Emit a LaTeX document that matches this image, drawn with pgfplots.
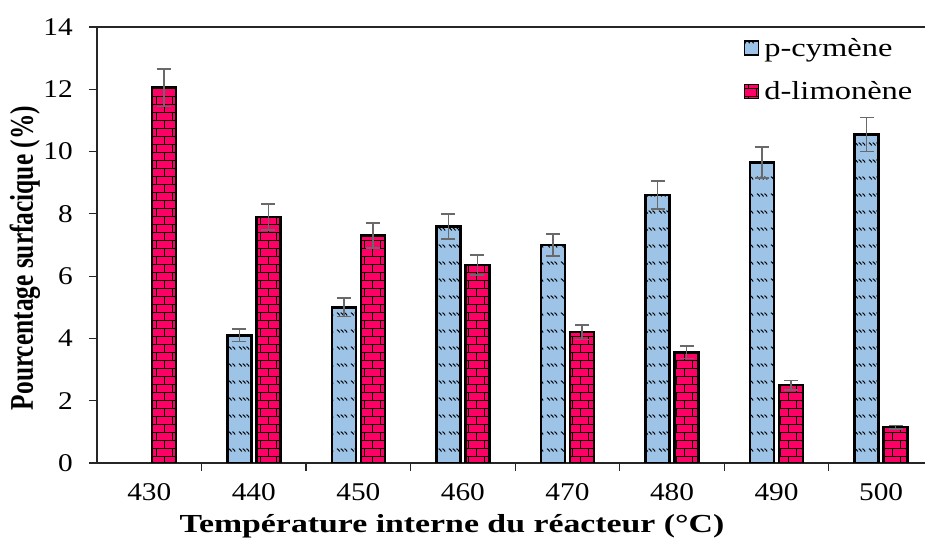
\documentclass[border=0pt]{standalone}
\usepackage{pgfplots}
\pgfplotsset{compat=1.18}
\usepackage{fontspec}
\setmainfont{Liberation Serif}
\usetikzlibrary{patterns.meta}
\definecolor{cym}{RGB}{157,195,230}
\definecolor{lim}{RGB}{255,0,102}
\definecolor{errc}{RGB}{105,105,105}

\tikzdeclarepattern{
  name=brickz,
  type=uncolored,
  bottom left={(-1pt,-1pt)},
  top right={(17pt,17pt)},
  tile size={(16pt,16pt)},
  code={
    \tikzset{x=1pt,y=1pt,line width=2.2pt}
    \draw (-1,0)--(17,0) (-1,8)--(17,8) (4,0)--(4,8) (12,8)--(12,16);
  }
}
\tikzdeclarepattern{
  name=wavez,
  type=uncolored,
  bottom left={(0pt,0pt)},
  top right={(14pt,17pt)},
  tile size={(14pt,17pt)},
  code={
    \tikzset{x=1pt,y=1pt,line width=1pt}
    \draw (1,12) .. controls (2,12) and (3,10) .. (4,9);
    \draw (5,12) .. controls (6,12) and (7,10) .. (8,9);
    \draw (9,12) .. controls (10,12) and (11,10) .. (12,9);
  }
}

\begin{document}
\begin{tikzpicture}
\useasboundingbox (0,0) rectangle (925pt,545pt);
\begin{axis}[
  at={(97pt,82pt)}, anchor=south west,
  scale only axis, width=828pt, height=436pt,
  xmin=-0.5, xmax=7.42, ymin=0, ymax=14,
  axis lines=left,
  axis line style={-, black!85, line width=1.3pt},
  ybar,
  xtick={0,...,7},
  xticklabels={{\scalebox{1.15}[1]{430}},{\scalebox{1.15}[1]{440}},{\scalebox{1.15}[1]{450}},{\scalebox{1.15}[1]{460}},{\scalebox{1.15}[1]{470}},{\scalebox{1.15}[1]{480}},{\scalebox{1.15}[1]{490}},{\scalebox{1.15}[1]{500}}},
  major x tick style={draw=none},
  minor xtick={0.5,1.5,...,6.5},
  minor tick length=8pt,
  minor x tick style={black!85, line width=1.2pt},
  ytick={0,2,...,14},
  yticklabel={\scalebox{1.15}[1]{\pgfmathparse{int(\tick)}\pgfmathresult}},
  major tick length=8pt,
  major y tick style={black!85, line width=1.2pt},
  tick align=outside,
  tick label style={font=\fontsize{25.5}{30}\selectfont},
  yticklabel style={anchor=east, inner sep=0pt, xshift=-16pt},
  xticklabel style={anchor=north, inner sep=0pt, yshift=-12pt},
  xlabel={\scalebox{1.3}[1]{Température interne du réacteur (°C)}},
  xlabel style={at={(axis description cs:0.4287,-0.145)}, anchor=center, font=\fontsize{26}{30}\selectfont\bfseries},
  ylabel={\scalebox{1}[1.3]{Pourcentage surfacique (\%)}},
  ylabel style={at={(axis description cs:-0.087,0.470)}, anchor=center, font=\fontsize{25.4}{30}\selectfont\bfseries},
  legend style={draw=none, fill=none, at={(rel axis cs:0.781,0.975)}, anchor=north west,
    font=\fontsize{26}{30}\selectfont, row sep=24pt, inner sep=0pt,
    nodes={inner xsep=0pt, inner ysep=0pt}},
  legend cell align=left,
  legend image code/.code={\draw[#1, line width=1.5pt] (0pt,-7pt) rectangle (14pt,7pt);},
]
\addplot[fill=cym, draw=black, line width=2.5pt, bar width=24pt, bar shift=-14.5pt,
  postaction={pattern={wavez}, pattern color=black},
  error bars/.cd, y dir=both, y explicit,
  error bar style={draw=errc, line width=1.6pt},
  error mark options={rotate=90, mark size=7pt, draw=errc, line width=1.6pt}]
coordinates {(1,4.1) +- (0,0.2) (2,5.0) +- (0,0.3) (3,7.6) +- (0,0.4) (4,7.0) +- (0,0.35) (5,8.6) +- (0,0.45) (6,9.65) +- (0,0.5) (7,10.55) +- (0,0.55)};
\addlegendentry{\hspace{5pt}\scalebox{1.25}[1]{p-cymène}}
\addplot[fill=lim, draw=black, line width=2.5pt, bar width=24pt, bar shift=14.5pt,
  postaction={pattern={brickz}, pattern color=black},
  error bars/.cd, y dir=both, y explicit,
  error bar style={draw=errc, line width=1.6pt},
  error mark options={rotate=90, mark size=7pt, draw=errc, line width=1.6pt}]
coordinates {(0,12.05) +- (0,0.6) (1,7.9) +- (0,0.42) (2,7.3) +- (0,0.4) (3,6.35) +- (0,0.32) (4,4.2) +- (0,0.24) (5,3.55) +- (0,0.2) (6,2.5) +- (0,0.15) (7,1.15) +- (0,0.06)};
\addlegendentry{\hspace{5pt}\scalebox{1.25}[1]{d-limonène}}
\draw[black!85, line width=1.3pt] (rel axis cs:0,1) -- (rel axis cs:1,1);
\end{axis}
\end{tikzpicture}
\end{document}
